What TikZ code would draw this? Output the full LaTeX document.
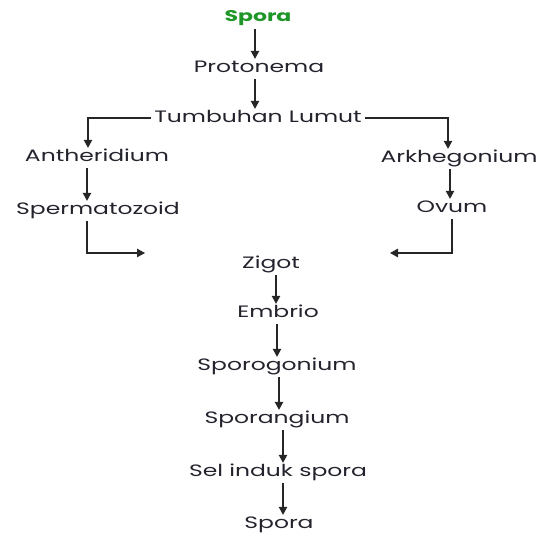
\documentclass[tikz,border=0pt]{standalone}
\usepackage{fontspec}
\setmainfont{Poppins}[FakeStretch=1.42]
\usetikzlibrary{arrows.meta}
\definecolor{sporagreen}{RGB}{30,150,40}
\definecolor{txt}{RGB}{35,35,45}
\tikzset{
  lbl/.style={inner sep=0pt, text height=11pt, text depth=3pt, yshift=-2pt, font=\fontsize{16.5}{18}\selectfont, text=txt},
  arr/.style={draw=black!85, line width=1.1pt, -{Triangle[length=8pt,width=8.5pt]}, shorten >=2pt, shorten <=4pt},
}
\begin{document}
\begin{tikzpicture}[x=1pt,y=-1pt]
\useasboundingbox (0,0) rectangle (540,535);
\node[lbl, text=sporagreen, font=\fontsize{15.5}{18}\selectfont\bfseries] (s0) at (258,16) {Spora};
\node[lbl] (proto) at (259,66) {Protonema};
\node[lbl] (tl) at (258,116) {Tumbuhan Lumut};
\node[lbl] (anth) at (97,155) {Antheridium};
\node[lbl] (sperm) at (98,208) {Spermatozoid};
\node[lbl] (arkh) at (459,156) {Arkhegonium};
\node[lbl] (ovum) at (452,206) {Ovum};
\node[lbl] (zigot) at (271,262) {Zigot};
\node[lbl] (emb) at (278,311) {Embrio};
\node[lbl] (spg) at (277,364) {Sporogonium};
\node[lbl] (spa) at (277,417) {Sporangium};
\node[lbl] (sel) at (278,470) {Sel induk spora};
\node[lbl] (s1) at (279,522) {Spora};
\coordinate (lend) at (145,253);
\coordinate (rend) at (390,253);
\draw[arr] (s0.south -| 255,0) -- (proto.north -| 255,0);
\draw[arr] (proto.south -| 255,0) -- (tl.north -| 255,0);
\draw[arr, shorten <=0pt] ([xshift=-3pt]tl.west) -| (anth.north -| 88,0);
\draw[arr, shorten <=0pt] ([xshift=3pt]tl.east) -| (arkh.north -| 448,0);
\draw[arr] (anth.south -| 87,0) -- (sperm.north -| 87,0);
\draw[arr] (arkh.south -| 450,0) -- (ovum.north -| 450,0);
\draw[arr, shorten >=0pt] (sperm.south -| 87,0) |- (lend);
\draw[arr, shorten >=0pt] (ovum.south -| 452,0) |- (rend);
\draw[arr] (zigot.south -| 276,0) -- (emb.north -| 276,0);
\draw[arr] (emb.south -| 277,0) -- (spg.north -| 277,0);
\draw[arr] (spg.south -| 279,0) -- (spa.north -| 279,0);
\draw[arr] (spa.south -| 283,0) -- (sel.north -| 283,0);
\draw[arr] (sel.south -| 283,0) -- (s1.north -| 283,0);
\end{tikzpicture}
\end{document}
